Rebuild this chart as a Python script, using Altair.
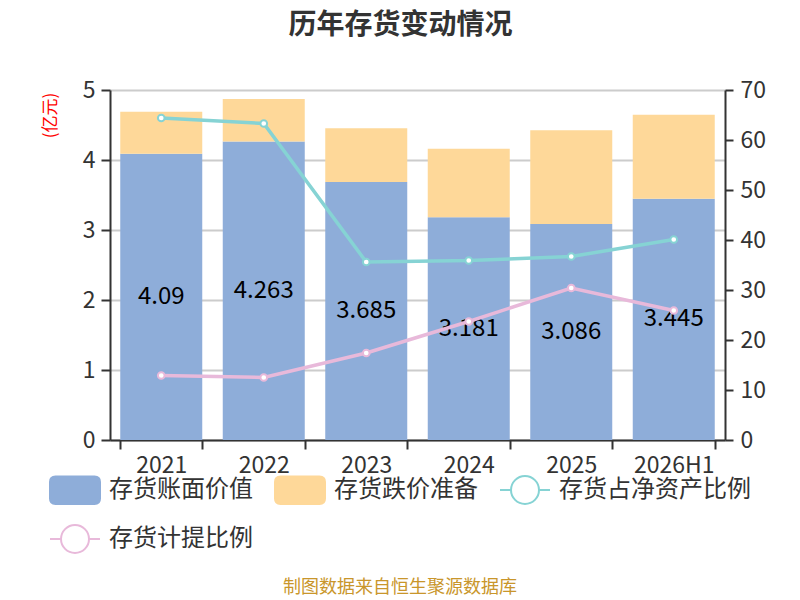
import altair as alt
import pandas as pd

years = ["2021", "2022", "2023", "2024", "2025", "2026H1"]
book_value = [4.09, 4.263, 3.685, 3.181, 3.086, 3.445]
impairment = [0.60, 0.61, 0.77, 0.98, 1.34, 1.20]
net_asset_ratio = [64.4, 63.3, 35.6, 35.9, 36.7, 40.1]
provision_ratio = [12.9, 12.5, 17.4, 23.7, 30.4, 25.9]
book_labels = ["4.09", "4.263", "3.685", "3.181", "3.086", "3.445"]

series = ["存货账面价值", "存货跌价准备", "存货占净资产比例", "存货计提比例"]
fill_colors = ["#8eadd9", "#fed899", "#ffffff", "#ffffff"]
stroke_colors = ["#8eadd9", "#fed899", "#86d3d4", "#e8b9da"]

FONT = "Noto Sans CJK SC"

bar_df = pd.DataFrame({
    "year": years * 2,
    "series": [series[0]] * 6 + [series[1]] * 6,
    "value": book_value + impairment,
    "ord": [0] * 6 + [1] * 6,
})
label_df = pd.DataFrame({"year": years, "value": book_value, "label": book_labels})
line_df = pd.DataFrame({
    "year": years * 2,
    "series": [series[2]] * 6 + [series[3]] * 6,
    "pct": net_asset_ratio + provision_ratio,
})

is_line = "indexof(['存货占净资产比例','存货计提比例'], datum.value) >= 0"
rect_path = ("M-0.78,-0.55L0.78,-0.55Q1,-0.55,1,-0.33L1,0.33Q1,0.55,0.78,0.55"
             "L-0.78,0.55Q-1,0.55,-1,0.33L-1,-0.33Q-1,-0.55,-0.78,-0.55Z")
line_path = ("M-1,0L-0.56,0M0.56,0L1,0M0.56,0A0.56,0.56,0,1,1,-0.56,0"
             "A0.56,0.56,0,1,1,0.56,0Z")


def make_legend():
    return alt.Legend(
        title=None, orient="none", legendX=-61, legendY=374,
        direction="horizontal", columns=3, columnPadding=18, rowPadding=5,
        padding=0, labelFontSize=24, labelColor="#333", labelLimit=400,
        labelOffset=8, labelFont=FONT,
        symbolType={"expr": f"{is_line} ? '{line_path}' : '{rect_path}'"},
        symbolSize=2500, symbolStrokeWidth=2, symbolOpacity=1,
        symbolFillColor="#ffffff", symbolStrokeColor="#000000",
    )


fill_enc = alt.Fill("series:N", scale=alt.Scale(domain=series, range=fill_colors),
                    legend=make_legend())
stroke_enc = alt.Stroke("series:N", scale=alt.Scale(domain=series, range=stroke_colors),
                        legend=make_legend())

x = alt.X("year:N", sort=years, title=None,
          scale=alt.Scale(paddingInner=0.2, paddingOuter=0.1),
          axis=alt.Axis(labelAngle=0, tickBand="extent", labelFontSize=23,
                        labelColor="#333", domainColor="#333", domainWidth=2,
                        tickColor="#333", tickWidth=2, tickSize=9, labelPadding=5,
                        grid=False))

left_axis = alt.Axis(title="(亿元)", titleColor="red", titleFontSize=17,
                     titleFontWeight="normal", titleX=-60, titleY=25, titleAngle=-90,
                     titleAlign="center", titleBaseline="middle",
                     values=[0, 1, 2, 3, 4, 5], labelFontSize=23, labelColor="#333",
                     domainColor="#333", domainWidth=2, tickColor="#333", tickWidth=2,
                     tickSize=9, labelPadding=6, grid=True, gridColor="#cccccc",
                     gridWidth=2)
right_axis = alt.Axis(orient="right", title="%", titleColor="red", titleFontSize=16,
                      titleFontWeight="normal", titleX=78, titleY=3, titleAngle=90,
                      titleAlign="center", titleBaseline="middle",
                      values=list(range(0, 71, 10)), labelFontSize=23,
                      labelColor="#333", domainColor="#333", domainWidth=2,
                      tickColor="#333", tickWidth=2, tickSize=8, labelPadding=7,
                      grid=False)

y_left_scale = alt.Scale(domain=[0, 5])

bars = alt.Chart(bar_df).mark_bar().encode(
    x=x,
    y=alt.Y("value:Q", stack="zero", scale=y_left_scale, axis=left_axis),
    fill=fill_enc,
    order=alt.Order("ord:Q"),
)
labels = alt.Chart(label_df).transform_calculate(mid="datum.value / 2").mark_text(
    fontSize=24, color="#000", baseline="middle"
).encode(
    x=x,
    y=alt.Y("mid:Q", scale=y_left_scale, axis=left_axis),
    text="label:N",
)
left = alt.layer(bars, labels)

y_right = alt.Y("pct:Q", scale=alt.Scale(domain=[0, 70]), axis=right_axis)
lines = alt.Chart(line_df).mark_line(strokeWidth=3.5).encode(
    x=x, y=y_right, stroke=stroke_enc)
points = alt.Chart(line_df).mark_point(
    shape="circle", size=45, strokeWidth=2, opacity=1, fillOpacity=1
).encode(x=x, y=y_right, stroke=stroke_enc, fill=fill_enc)
right = alt.layer(lines, points)

source = alt.Chart(pd.DataFrame({"t": ["制图数据来自恒生聚源数据库"]})).mark_text(
    fontSize=18, color="#c9962b", font=FONT
).encode(text="t:N", x=alt.value(290), y=alt.value(498))

chart = alt.layer(left, right, source).resolve_scale(y="independent").properties(
    width=615, height=350,
    padding={"left": 102, "top": 82, "right": 66, "bottom": 158},
    autosize=alt.AutoSizeParams(type="none"),
    title=alt.TitleParams("历年存货变动情况", fontSize=28, fontWeight="bold",
                          color="#333", anchor="middle", frame="group",
                          offset=39, dx=-17, font=FONT),
).configure(font=FONT).configure_view(stroke=None).configure_axis(
    labelFont=FONT, titleFont=FONT)

chart.save("out.html", embed_options={"renderer": "svg", "actions": False})
